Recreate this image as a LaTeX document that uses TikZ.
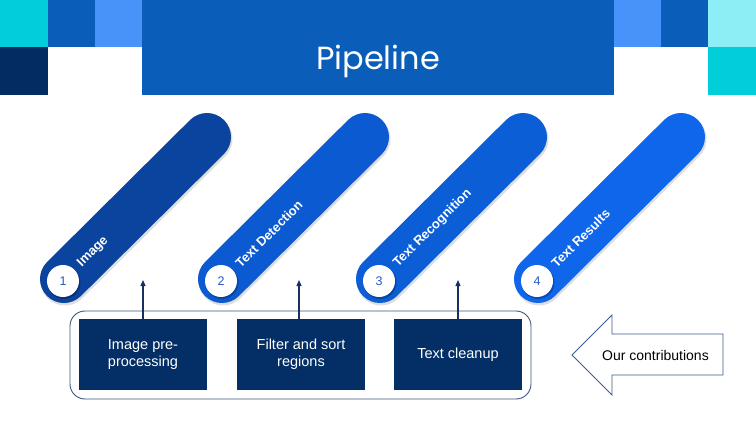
\documentclass[tikz,border=0pt]{standalone}
\usepackage{fontspec}
\setmainfont{Liberation Sans}
\newfontfamily\titlefont{Poppins}
\usetikzlibrary{arrows.meta,calc,shapes.arrows}

\definecolor{cyanA}{HTML}{00CFDA}
\definecolor{cyanB}{HTML}{8EEEF6}
\definecolor{navyA}{HTML}{032D62}
\definecolor{blueA}{HTML}{0A5DB8}
\definecolor{blueB}{HTML}{4893FA}
\definecolor{pillA}{HTML}{0A449E}
\definecolor{pillB}{HTML}{0B5AD1}
\definecolor{pillC}{HTML}{0B5ED6}
\definecolor{pillD}{HTML}{1066EA}
\definecolor{numblue}{HTML}{2456C8}
\definecolor{stepnavy}{HTML}{032F66}
\definecolor{framecol}{HTML}{3B5580}
\definecolor{arrowcol}{HTML}{17305E}
\definecolor{callout}{HTML}{3E5C8C}

\tikzset{
  tile/.style={fill=#1, draw=none},
  capsule/.style={line width=48pt, line cap=round, draw=#1},
  capshadow/.style={line width=49pt, line cap=round, draw=black, opacity=0.13},
  numdisc/.style={circle, fill=white, minimum size=32pt, inner sep=0pt,
    text=numblue, font=\fontsize{12.5}{13}\selectfont},
  disc shadow/.style={circle, fill=black, opacity=0.25, minimum size=33pt, inner sep=0pt},
  steplabel/.style={rotate=45, anchor=west, inner sep=0pt, text=white,
    font=\bfseries\fontsize{13}{14}\selectfont},
  procbox/.style={fill=stepnavy, draw=none, minimum width=128pt, minimum height=71pt,
    text=white, align=center, font=\fontsize{14.5}{17.5}\selectfont},
  uparrow/.style={draw=arrowcol, line width=1.3pt, -{Triangle[length=6pt,width=5pt]}},
}

\begin{document}
\begin{tikzpicture}[x=1pt, y=-1pt]
\useasboundingbox (0,0) rectangle (756,425);

% header tiles
\fill[tile=cyanA] (0,0) rectangle (48,47);
\fill[tile=navyA] (0,47) rectangle (48,95);
\fill[tile=blueA] (48,0) rectangle (95,47);
\fill[tile=blueB] (95,0) rectangle (142,47);
\fill[tile=blueB] (614,0) rectangle (661,47);
\fill[tile=blueA] (661,0) rectangle (708,47);
\fill[tile=cyanB] (708,0) rectangle (756,47);
\fill[tile=cyanA] (708,47) rectangle (756,95);

% title banner
\fill[tile=blueA] (142,0) rectangle (614,95);
\node[text=white, font=\titlefont\fontsize{32}{36}\selectfont, anchor=base]
  (title) at (378,70) {Pipeline};

% diagonal step capsules
\foreach \i/\col in {0/pillA, 1/pillB, 2/pillC, 3/pillD}{
  \pgfmathsetmacro{\dx}{158*\i}
  \draw[capshadow] (64+\dx+1,279+2) -- (207+\dx+1,137+2);
  \draw[capsule=\col] (64+\dx,279) -- (207+\dx,137);
}

% numbered discs and labels
\foreach \i/\lbl in {1/Image, 2/Text Detection, 3/Text Recognition, 4/Text Results}{
  \pgfmathsetmacro{\cx}{63+158*(\i-1)}
  \node[disc shadow] at (\cx+1,281+1.5) {};
  \node[numdisc] (n\i) at (\cx,281) {\i};
  \node[steplabel] (s\i) at ($(n\i.center)+(16.5,-15.5)$) {\lbl};
}

% our contributions frame and process boxes
\draw[framecol, line width=0.9pt, rounded corners=15pt] (70,311) rectangle (531,399);
\node[procbox] (p1) at (143,354.5) {Image pre-\\processing};
\node[procbox] (p2) at (301,354.5) {Filter and sort\\regions};
\node[procbox] (p3) at (458,354.5) {Text cleanup};

\coordinate (t1) at (143,280);
\coordinate (t2) at (299,280);
\coordinate (t3) at (458,280);
\draw[uparrow] (p1.north) -- (t1);
\draw[uparrow] ([xshift=-2pt]p2.north) -- (t2);
\draw[uparrow] (p3.north) -- (t3);

% callout arrow
\draw[callout, line width=0.8pt, fill=white, line join=miter]
  (572,355) -- (612,315) -- (612,334) -- (723,334) -- (723,375)
  -- (612,375) -- (612,395) -- cycle;
\node[text=black, font=\fontsize{14}{16}\selectfont] (oc) at (655.5,355) {Our contributions};
\end{tikzpicture}
\end{document}
